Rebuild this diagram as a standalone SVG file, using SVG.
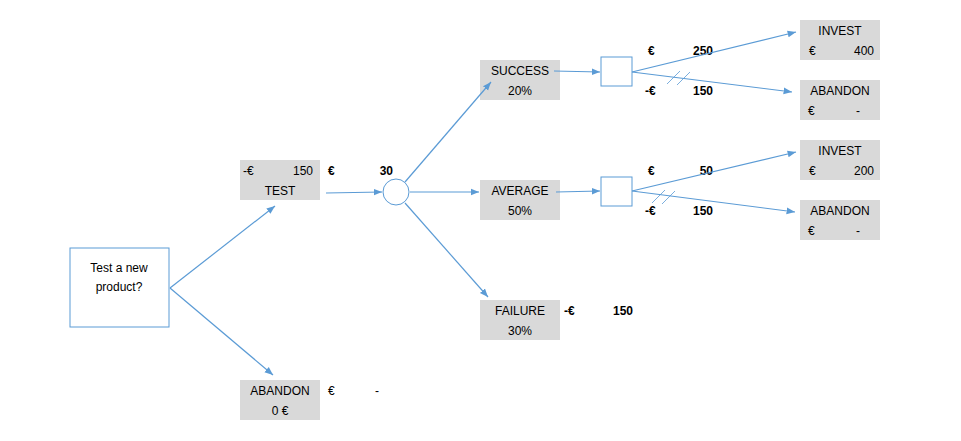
<svg xmlns="http://www.w3.org/2000/svg" width="961" height="441" viewBox="0 0 961 441">
<defs>
<marker id="a" viewBox="0 0 10 10" refX="10" refY="5" markerWidth="7" markerHeight="7" orient="auto"><path d="M0,1 L10,5 L0,9 z" fill="#5b9bd5"/></marker>
<style>
text{font-family:"Liberation Sans",Arial,sans-serif;font-size:12px;fill:#000}
.b{font-weight:bold}
.g{fill:#d9d9d9}
.n{fill:#fff;stroke:#5b9bd5;stroke-width:1}
.c line{stroke:#5b9bd5;stroke-width:1.2;marker-end:url(#a)}
.h line{stroke:#5b9bd5;stroke-width:0.8}
</style>
</defs>
<rect width="961" height="441" fill="#fff"/>
<g id="start"><rect class="n" x="70" y="248" width="99" height="79"/><text x="119" y="272" text-anchor="middle">Test a new</text><text x="119" y="291" text-anchor="middle">product?</text></g>
<g id="test"><rect class="g" x="240" y="160" width="80" height="40"/><text x="243" y="175">-€</text><text x="313" y="175" text-anchor="end">150</text><text x="280" y="195" text-anchor="middle">TEST</text></g>
<g id="testval"><text class="b" x="328" y="175">€</text><text class="b" x="393" y="175" text-anchor="end">30</text></g>
<g id="abandon0"><rect class="g" x="240" y="380" width="80" height="40"/><text x="280" y="395" text-anchor="middle">ABANDON</text><text x="280" y="415" text-anchor="middle">0 €</text><text x="328" y="395">€</text><text x="375" y="395">-</text></g>
<g id="chance"><circle class="n" cx="396" cy="192" r="13"/></g>
<g id="success"><rect class="g" x="480" y="60" width="80" height="40"/><text x="520" y="75" text-anchor="middle">SUCCESS</text><text x="520" y="95" text-anchor="middle">20%</text></g>
<g id="average"><rect class="g" x="480" y="180" width="80" height="40"/><text x="520" y="195" text-anchor="middle">AVERAGE</text><text x="520" y="215" text-anchor="middle">50%</text></g>
<g id="failure"><rect class="g" x="480" y="300" width="80" height="40"/><text x="520" y="315" text-anchor="middle">FAILURE</text><text x="520" y="335" text-anchor="middle">30%</text><text class="b" x="564" y="315">-€</text><text class="b" x="633" y="315" text-anchor="end">150</text></g>
<g id="dec1"><rect class="n" x="601" y="57" width="31" height="29"/></g>
<g id="dec2"><rect class="n" x="601" y="177" width="31" height="29"/></g>
<g id="invest1"><rect class="g" x="800" y="20" width="80" height="40"/><text x="840" y="35" text-anchor="middle">INVEST</text><text x="809" y="55">€</text><text x="874" y="55" text-anchor="end">400</text></g>
<g id="abandon1"><rect class="g" x="800" y="80" width="80" height="40"/><text x="840" y="95" text-anchor="middle">ABANDON</text><text x="808" y="115">€</text><text x="856" y="115">-</text></g>
<g id="invest2"><rect class="g" x="800" y="140" width="80" height="40"/><text x="840" y="155" text-anchor="middle">INVEST</text><text x="809" y="175">€</text><text x="874" y="175" text-anchor="end">200</text></g>
<g id="abandon2"><rect class="g" x="800" y="200" width="80" height="40"/><text x="840" y="215" text-anchor="middle">ABANDON</text><text x="808" y="235">€</text><text x="856" y="235">-</text></g>
<g id="vals"><text class="b" x="648" y="55">€</text><text class="b" x="713" y="55" text-anchor="end">250</text><text class="b" x="645" y="95">-€</text><text class="b" x="713" y="95" text-anchor="end">150</text>
<text class="b" x="648" y="175">€</text><text class="b" x="713" y="175" text-anchor="end">50</text><text class="b" x="645" y="215">-€</text><text class="b" x="713" y="215" text-anchor="end">150</text></g>
<g id="connectors" class="c">
<line x1="170" y1="288" x2="275" y2="206"/>
<line x1="170" y1="288" x2="273" y2="375"/>
<line x1="326" y1="193" x2="382" y2="192"/>
<line x1="405" y1="182" x2="491" y2="82"/>
<line x1="410" y1="192" x2="479" y2="192"/>
<line x1="405" y1="203" x2="488" y2="297"/>
<line x1="554" y1="71" x2="600" y2="72"/>
<line x1="556" y1="192" x2="600" y2="191"/>
<line x1="632" y1="72" x2="796" y2="32"/>
<line x1="632" y1="72" x2="792" y2="92"/>
<line x1="632" y1="191" x2="796" y2="152"/>
<line x1="632" y1="191" x2="795" y2="212"/>
</g>
<g class="h"><line x1="667" y1="84" x2="680" y2="71"/><line x1="677" y1="85" x2="690" y2="72"/><line x1="652" y1="203" x2="665" y2="190"/><line x1="662" y1="204" x2="675" y2="191"/></g>
</svg>
